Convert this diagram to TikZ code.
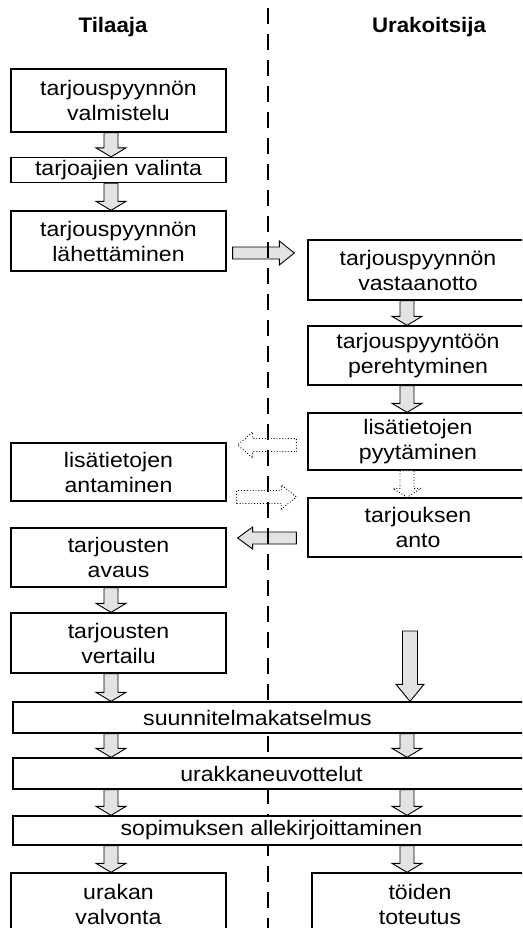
\documentclass[tikz,border=0pt]{standalone}
\usepackage{fontspec}
\setmainfont{Liberation Sans}
\newfontfamily\boxfont{Liberation Sans}[FakeStretch=1.1]
\newfontfamily\titlefont{Liberation Sans}[FakeStretch=1.06]
\usetikzlibrary{calc}
\pgfdeclarelayer{bg}
\pgfdeclarelayer{arr}
\pgfdeclarelayer{div}
\pgfsetlayers{bg,arr,div,main}
\newcommand{\varr}[6][solidarr]{%
  \draw[#1] let \p1=(#2), \p2=(#3) in
  (\x1-#4,\y1) -- (\x1+#4,\y1) -- (\x1+#4,\y2+#6) -- (\x1+#5,\y2+#6) -- (\x1,\y2)
  -- (\x1-#5,\y2+#6) -- (\x1-#4,\y2+#6) -- cycle;}
\newcommand{\harr}[6][solidarr]{%
  \draw[#1] let \p1=(#2), \p2=(#3) in
  (\x1,\y1-#4) -- (\x1,\y1+#4) -- ({\x2-(#6)},\y1+#4) -- ({\x2-(#6)},\y1+#5) -- (\x2,\y1)
  -- ({\x2-(#6)},\y1-#5) -- ({\x2-(#6)},\y1-#4) -- cycle;}
\tikzset{
  box/.style={draw, fill=white, line width=1.3pt, align=center, inner sep=0pt,
    font=\boxfont\fontsize{21}{25}\selectfont},
  lbox/.style={box, minimum width=215pt},
  rbox/.style={box, minimum width=220pt},
  wbox/.style={box, minimum width=517pt},
  solidarr/.style={draw, line width=0.9pt, fill=gray!22, line join=miter},
  dotarr/.style={draw, dotted, line width=0.9pt, fill=white},
  title/.style={font=\titlefont\bfseries\fontsize{21}{25}\selectfont},
  divider/.style={line width=2.6pt, dash pattern=on 16pt off 10pt}
}
\begin{document}
\begin{tikzpicture}[x=1pt,y=-1pt]
\useasboundingbox (0,0) rectangle (522,928);
\clip (0,0) rectangle (522,928);
\begin{pgfonlayer}{bg}
\fill[white] (0,0) rectangle (522,928);
\end{pgfonlayer}
\coordinate (dtop) at (268,8);
\coordinate (dbot) at (268,930);
\begin{pgfonlayer}{div}
\draw[divider] (dtop) -- (dbot);
\end{pgfonlayer}
\node[title] (tl) at (113,27) {Tilaaja};
\node[title] (ur) at (429,27) {Urakoitsija};
% left column
\node[lbox, minimum height=63pt] (vt) at (118.5,100.5) {tarjouspyynnön\\valmistelu};
\node[lbox, minimum height=25pt] (va) at (118.5,170) {tarjoajien valinta};
\node[lbox, minimum height=60pt] (la) at (118.5,241) {tarjouspyynnön\\lähettäminen};
\node[lbox, minimum height=58pt] (an) at (118.5,472) {lisätietojen\\antaminen};
\node[lbox, minimum height=59pt] (av) at (118.5,557.5) {tarjousten\\avaus};
\node[lbox, minimum height=60pt] (ve) at (118.5,643) {tarjousten\\vertailu};
\node[lbox, minimum height=62pt] (uv) at (118.5,904) {urakan\\valvonta};
% right column
\node[rbox, minimum height=60pt] (vo) at (418,270) {tarjouspyynnön\\vastaanotto};
\node[rbox, minimum height=59pt] (pe) at (418,355.5) {tarjouspyyntöön\\perehtyminen};
\node[rbox, minimum height=57pt] (py) at (418,441.5) {lisätietojen\\pyytäminen};
\node[rbox, minimum height=59pt] (ant) at (418,527.5) {tarjouksen\\anto};
\node[box, minimum width=216pt, minimum height=62pt] (tt) at (420,904) {töiden\\toteutus};
% wide
\node[wbox, minimum height=31pt] (sk) at (271.5,717.5) {\hspace*{-28pt}suunnitelmakatselmus};
\node[wbox, minimum height=31pt] (un) at (271.5,773.5) {urakkaneuvottelut};
\node[wbox, minimum height=29pt] (so) at (271.5,830.5) {sopimuksen allekirjoittaminen};
% arrow columns
\coordinate (Lc) at (111,0);
\coordinate (Rc) at (407,0);
\coordinate (bigstart) at (410,631);
\varr{vt.south -| Lc}{va.north -| Lc}{7pt}{15pt}{9pt}
\varr{va.south -| Lc}{la.north -| Lc}{7pt}{15pt}{9pt}
\varr{av.south -| Lc}{ve.north -| Lc}{7pt}{15pt}{9pt}
\varr{ve.south -| Lc}{sk.north -| Lc}{7pt}{15pt}{9pt}
\varr{sk.south -| Lc}{un.north -| Lc}{7pt}{15pt}{9pt}
\varr{un.south -| Lc}{so.north -| Lc}{7pt}{15pt}{9pt}
\varr{so.south -| Lc}{uv.north -| Lc}{7pt}{15pt}{9pt}
\varr{vo.south -| Rc}{pe.north -| Rc}{7pt}{15pt}{9pt}
\varr{pe.south -| Rc}{py.north -| Rc}{7pt}{15pt}{9pt}
\varr[dotarr]{py.south -| Rc}{ant.north -| Rc}{7pt}{14pt}{9pt}
\varr{sk.south -| Rc}{un.north -| Rc}{7pt}{15pt}{9pt}
\varr{un.south -| Rc}{so.north -| Rc}{7pt}{15pt}{9pt}
\varr{so.south -| Rc}{tt.north -| Rc}{7pt}{15pt}{9pt}
\varr{bigstart}{sk.north -| bigstart}{7.5pt}{14pt}{17pt}
% horizontal arrows (under the divider)
\coordinate (h1) at (0,253);
\coordinate (h2) at (0,445);
\coordinate (h3) at (0,497);
\coordinate (h4) at (0,538);
\begin{pgfonlayer}{arr}
\harr{$(la.east |- h1)+(6,0)$}{$(vo.west |- h1)+(-13,0)$}{6pt}{12pt}{15pt}
\harr[dotarr]{$(py.west |- h2)+(-11,0)$}{$(an.east |- h2)+(11,0)$}{6.5pt}{13pt}{-15pt}
\harr[dotarr]{$(an.east |- h3)+(10,0)$}{$(ant.west |- h3)+(-11,0)$}{6.5pt}{12pt}{15pt}
\harr{$(ant.west |- h4)+(-11,0)$}{$(av.east |- h4)+(11,0)$}{6pt}{11pt}{-15pt}
\end{pgfonlayer}
\end{tikzpicture}
\end{document}
